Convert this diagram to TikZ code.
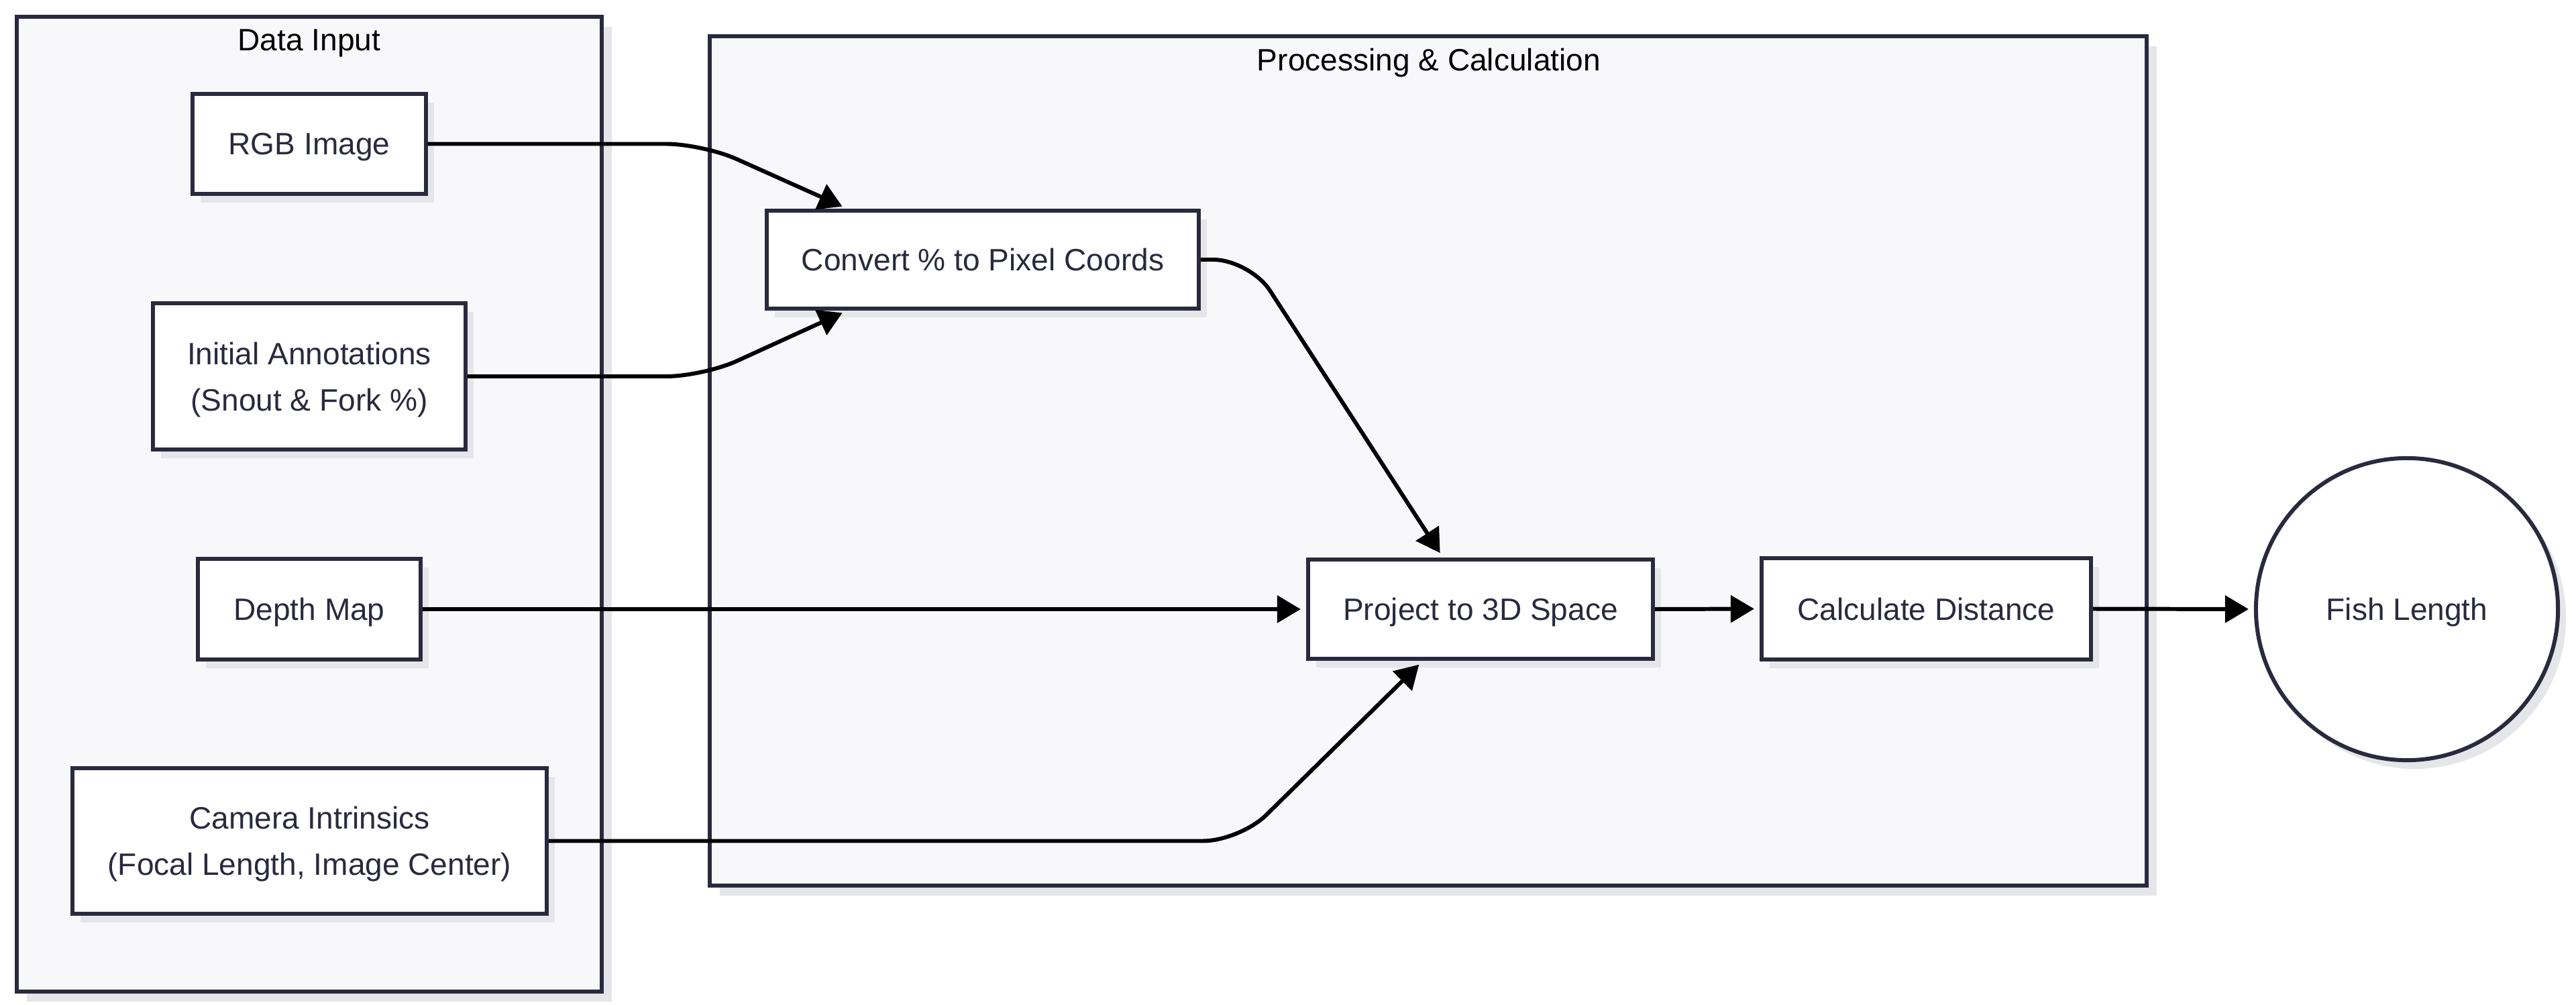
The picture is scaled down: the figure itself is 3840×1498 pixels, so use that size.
\documentclass[tikz,border=0pt]{standalone}
\usepackage{fontspec}
\setmainfont{Liberation Sans}
\usetikzlibrary{arrows.meta,shadows}
\definecolor{ink}{HTML}{2A2A3E}
\definecolor{clfill}{HTML}{F8F8FA}
\definecolor{shade}{HTML}{E6E6EA}
\begin{document}
\begin{tikzpicture}[x=0.01cm,y=-0.01cm,
  txt/.style={font=\fontsize{13.1}{19.6}\selectfont, align=center, text depth=0pt},
  box/.style={txt, draw=ink, line width=1.7pt, fill=white, text=ink, inner sep=0pt,
    drop shadow={shadow xshift=0.12cm, shadow yshift=-0.13cm, fill=shade, opacity=1}},
  cluster/.style={draw=ink, line width=1.7pt, fill=clfill, inner sep=0pt,
    drop shadow={shadow xshift=0.15cm, shadow yshift=-0.15cm, fill=shade, opacity=1}},
  lbl/.style={txt, text=black},
  arr/.style={line width=1.7pt, draw=black, rounded corners=0.55cm, shorten >=0.08cm,
    -{Triangle[length=0.35cm,width=0.4cm]}}]
\useasboundingbox (0,0) rectangle (3840,1498);
% clusters
\node[cluster, minimum width=8.72cm, minimum height=14.53cm] (cin) at (461,751.5) {};
\node[lbl] (cinl) at (461,60) {Data Input};
\node[cluster, minimum width=21.40cm, minimum height=12.66cm] (cproc) at (2129,687) {};
\node[lbl] (cprocl) at (2130,89) {Processing \& Calculation};
% inputs
\node[box, minimum width=3.47cm, minimum height=1.49cm] (rgb) at (461,214.5) {RGB Image};
\node[box, minimum width=4.66cm, minimum height=2.17cm] (ann) at (461,561) {Initial Annotations\\(Snout \& Fork \%)};
\node[box, minimum width=3.32cm, minimum height=1.50cm] (depth) at (461,908) {Depth Map};
\node[box, minimum width=7.07cm, minimum height=2.17cm] (cam) at (461.5,1253.5) {Camera Intrinsics\\(Focal Length, Image Center)};
% processing
\node[box, minimum width=6.44cm, minimum height=1.46cm] (conv) at (1465,387) {Convert \% to Pixel Coords};
\node[box, minimum width=5.14cm, minimum height=1.48cm] (proj) at (2207,908) {Project to 3D Space};
\node[box, minimum width=4.91cm, minimum height=1.50cm] (calc) at (2871.5,907.5) {Calculate Distance};
% output
\node[box, circle, minimum size=4.5cm] (fish) at (3588,908) {Fish Length};
% connectors
\draw[arr] (rgb.east) -- ++(410,0) -- ([xshift=1.23cm]conv.north west);
\draw[arr] (ann.east) -- ++(351,0) -- ([xshift=1.23cm]conv.south west);
\draw[arr] (conv.east) -- ++(73,0) -- ([xshift=2.04cm]proj.north west);
\draw[arr] (depth.east) -- (proj.west);
\draw[arr] (cam.east) -- ++(1030,0) -- ([xshift=1.74cm]proj.south west);
\draw[arr] (proj.east) -- (calc.west);
\draw[arr] (calc.east) -- (fish.west);
\end{tikzpicture}
\end{document}
